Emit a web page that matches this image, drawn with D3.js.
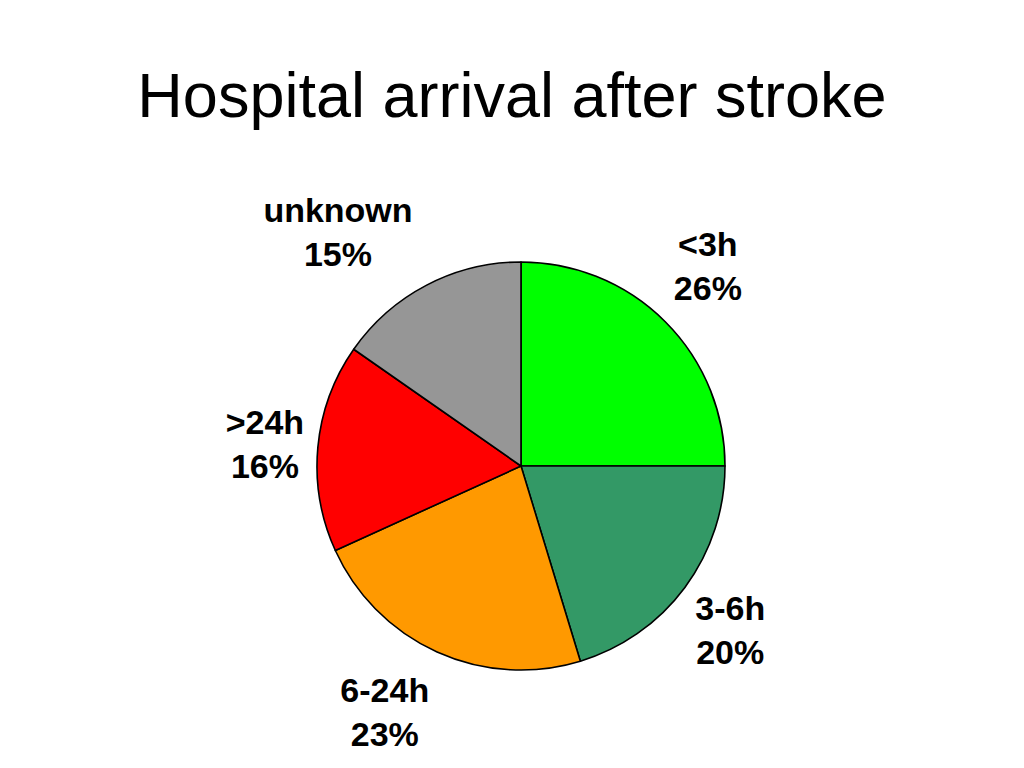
<!DOCTYPE html>
<html>
<head>
<meta charset="utf-8">
<script src="https://cdn.jsdelivr.net/npm/d3@7"></script>
<style>
  html, body { margin: 0; padding: 0; background: #ffffff; }
  svg { display: block; }
  text { font-family: "Liberation Sans", Arial, Helvetica, sans-serif; fill: #000; }
</style>
</head>
<body>
<svg id="chart" width="1024" height="768"></svg>
<script>
// ---- data ----
const title = "Hospital arrival after stroke";
const categories = ["<3h", "3-6h", "6-24h", ">24h", "unknown"];
const values = [25.0, 20.3, 22.9, 16.5, 15.3];          // slice sizes
const percentLabels = ["26%", "20%", "23%", "16%", "15%"]; // printed labels
const colors = ["#00ff00", "#339966", "#ff9900", "#ff0000", "#969696"];

// ---- layout ----
const width = 1024, height = 768;
const cx = 521, cy = 466, radius = 204;
const labelRadius = [274, 266, 281, 257, 297];
const labelAngleShiftDeg = [-2, 1.6, 4.7, -0.4, -10.5];

const svg = d3.select("#chart");

svg.append("text")
  .attr("x", 512)
  .attr("y", 117)
  .attr("text-anchor", "middle")
  .style("font-size", "63px")
  .text(title);

const data = categories.map((c, i) => ({ cat: c, value: values[i], label: percentLabels[i], color: colors[i], i }));

const pie = d3.pie().sort(null).value(d => d.value).startAngle(0).endAngle(2 * Math.PI);
const arcs = pie(data);
const arc = d3.arc().innerRadius(0).outerRadius(radius);

const g = svg.append("g").attr("transform", `translate(${cx},${cy})`);

g.selectAll("path.slice")
  .data(arcs)
  .enter().append("path")
  .attr("class", "slice")
  .attr("d", arc)
  .attr("fill", d => d.data.color)
  .attr("stroke", "#000")
  .attr("stroke-width", 1.6)
  .attr("stroke-linejoin", "round");

const lbl = g.selectAll("g.lbl")
  .data(arcs)
  .enter().append("g")
  .attr("class", "lbl")
  .attr("transform", d => {
    const i = d.data.i;
    const a = (d.startAngle + d.endAngle) / 2 + labelAngleShiftDeg[i] * Math.PI / 180;
    const r = labelRadius[i];
    return `translate(${r * Math.sin(a)},${-r * Math.cos(a)})`;
  });

lbl.append("text")
  .attr("text-anchor", "middle")
  .attr("y", -10)
  .style("font-size", "34px")
  .style("font-weight", "bold")
  .text(d => d.data.cat);

lbl.append("text")
  .attr("text-anchor", "middle")
  .attr("y", 34)
  .style("font-size", "34px")
  .style("font-weight", "bold")
  .text(d => d.data.label);
</script>
</body>
</html>
